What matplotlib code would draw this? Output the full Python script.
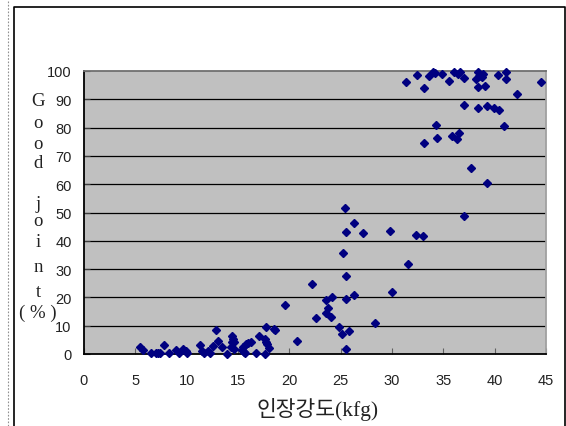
import matplotlib
matplotlib.use('Agg')
import matplotlib.pyplot as plt
from matplotlib.lines import Line2D

# tensile strength (kfg) vs good joint (%)
strength = [5.5, 5.7, 6.5, 7.0, 7.2, 7.4, 7.8, 8.3, 9.0, 9.3, 9.6, 9.9, 10.0,
            11.3, 11.5, 11.7, 12.1, 12.3, 12.6, 12.9, 13.1, 13.4, 13.9,
            14.3, 14.4, 14.4, 14.5, 14.6, 14.6,
            15.4, 15.5, 15.6, 15.7, 15.8, 16.0, 16.3,
            16.8, 17.0, 17.6, 17.7, 17.8, 18.0, 17.6, 17.7, 18.5, 18.6,
            19.6, 20.7, 22.2, 22.6,
            23.6, 23.6, 23.8, 24.1, 24.2, 24.8, 25.1, 25.2, 25.4, 25.5, 25.5, 25.5,
            25.5, 25.8, 26.3, 26.3, 27.2, 28.3, 29.8, 30.0, 31.6, 32.3, 33.0,
            33.1, 34.3, 34.4, 35.8, 36.3, 36.5, 37.0, 37.7, 39.3, 40.9,
            37.0, 38.4, 39.3, 39.9, 40.4,
            31.4, 32.4, 33.1, 33.6, 34.0, 34.2, 34.9, 35.6, 36.0, 36.4, 36.6,
            37.0, 38.2, 38.4, 38.5, 38.8, 38.9, 38.4, 39.1, 40.3, 41.1, 41.1,
            42.2, 44.5]
good_joint = [2.5, 1.4, 0.4, 0.3, 0.5, 0.2, 3.2, 0.4, 1.5, 0.4, 1.6, 1.0, 0.4,
              3.2, 1.0, 0.3, 1.0, 0.3, 3.0, 8.6, 4.7, 2.3, 0.1,
              2.6, 4.1, 6.5, 5.2, 4.4, 1.8,
              1.5, 2.6, 0.8, 0.2, 3.4, 3.9, 4.1,
              0.4, 6.2, 5.3, 4.4, 3.4, 2.0, 0.0, 9.4, 9.0, 8.5,
              17.3, 4.7, 24.7, 12.6,
              19.0, 14.6, 16.2, 13.1, 20.1, 9.5, 7.1, 35.8, 51.6, 43.0, 27.6, 19.3,
              1.9, 8.2, 46.2, 20.8, 42.6, 11.0, 43.3, 21.9, 31.8, 42.1, 41.7,
              74.6, 80.8, 76.2, 77.2, 76.0, 78.1, 48.9, 65.8, 60.6, 80.4,
              88.0, 86.8, 87.5, 87.1, 86.3,
              96.2, 98.6, 93.9, 98.2, 99.8, 99.3, 99.0, 96.6, 99.8, 99.1, 99.5,
              97.4, 97.0, 99.5, 98.4, 97.8, 99.1, 94.2, 94.7, 98.6, 99.5, 97.0,
              91.9, 96.2]

x_ticks = list(range(0, 50, 5))
y_ticks = list(range(0, 110, 10))
ylabel_chars = ['G', 'o', 'o', 'd', 'j', 'o', 'i', 'n', 't', '( % )']
ylabel_rows = [102, 124, 145, 164, 205, 222, 243, 268, 293, 313]

W, H = 566, 427
fig = plt.figure(figsize=(W / 100, H / 100), dpi=100)
ax = fig.add_axes([84 / W, 1 - 355 / H, (546 - 84) / W, (355 - 72) / H])
ax.set_facecolor('#c0c0c0')

for y in y_ticks[1:-1]:
    ax.axhline(y, color='black', lw=0.9, zorder=1)

ax.plot(strength, good_joint, linestyle='none', marker='D', ms=4,
        color='#000080', mec='#000080', zorder=3, clip_on=False)

ax.set_xlim(0, 45)
ax.set_ylim(0, 100)
ax.set_xticks(x_ticks)
ax.set_yticks(y_ticks)
ax.tick_params(axis='x', direction='in', length=4, color='#606060',
               labelsize=10.5, pad=14, labelcolor='#222222')
ax.tick_params(axis='y', direction='in', length=4, color='#404040',
               labelsize=10.5, pad=9, labelcolor='#222222')
for lab in ax.get_xticklabels() + ax.get_yticklabels():
    lab.set_family('Liberation Sans')

ax.spines['left'].set_color('black')
ax.spines['left'].set_linewidth(1.3)
ax.spines['bottom'].set_color('black')
ax.spines['bottom'].set_linewidth(1.3)
ax.spines['top'].set_color('#707070')
ax.spines['top'].set_linewidth(1.3)
ax.spines['right'].set_color('#a0a0a0')
ax.spines['right'].set_linewidth(1.3)

# vertical y label, one character per row
for ch, row in zip(ylabel_chars, ylabel_rows):
    fig.text(38 / W, 1 - row / H, ch, ha='center', va='center',
             fontsize=13.5, family=['Liberation Serif', 'DejaVu Serif'],
             color='#222222')

fig.text(318 / W, 1 - 410 / H, '인장강도(kfg)', ha='center', va='center',
         fontsize=15.5, family=['Liberation Serif', 'Noto Sans CJK KR'],
         color='#222222')

# outer frame and dotted guide line
fig.add_artist(Line2D([8 / W, 8 / W], [0, 1], transform=fig.transFigure,
                      color='#909090', lw=0.8, ls=(0, (1.5, 1.5))))
fig.add_artist(Line2D([14 / W, 14 / W, 565 / W, 565 / W],
                      [0, 1 - 8 / H, 1 - 8 / H, 0], transform=fig.transFigure,
                      color='black', lw=1.2))

fig.savefig('out.png', dpi=100)
